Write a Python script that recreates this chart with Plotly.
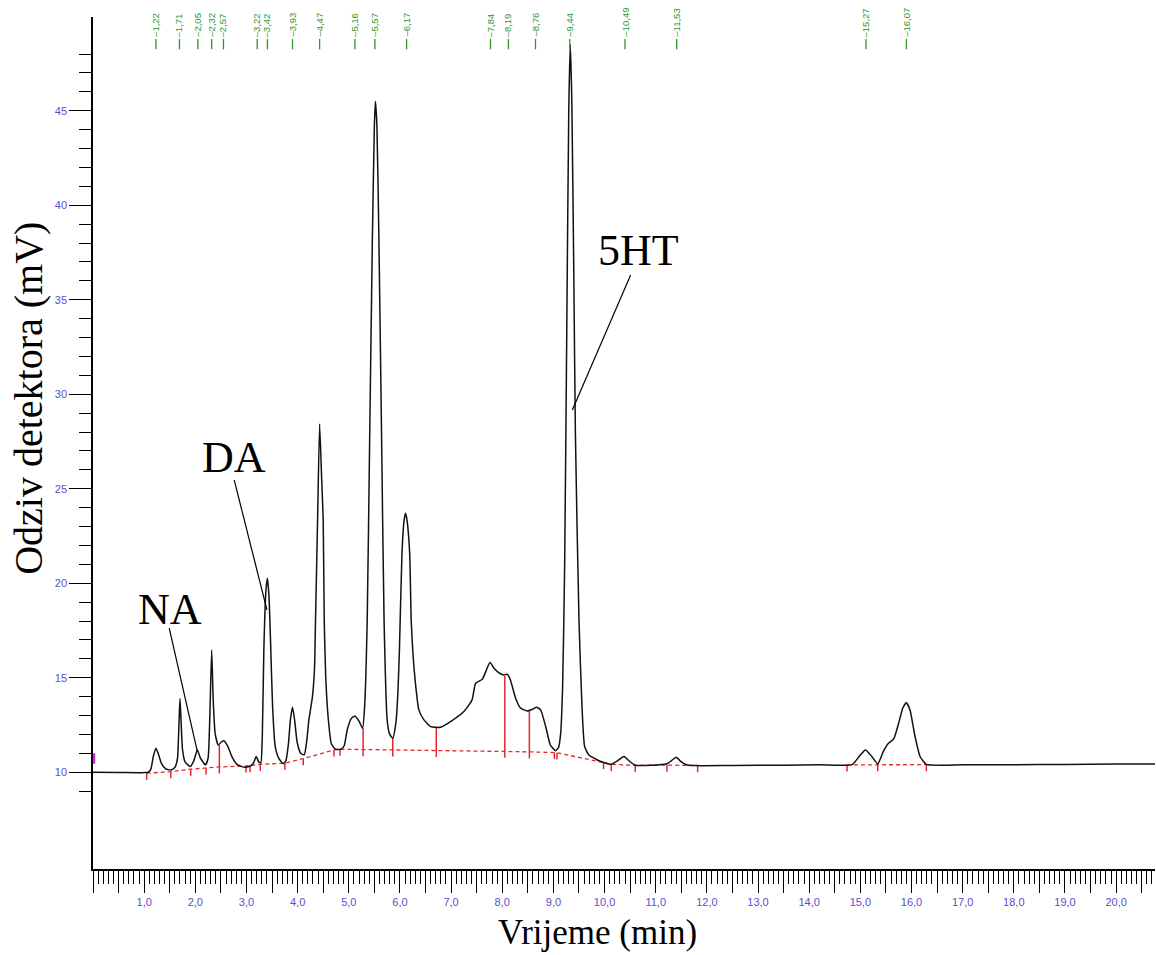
import plotly.graph_objects as go

# chromatogram: time (min) and detector response (mV)
time_min = [0.00, 0.50, 1.00, 1.08, 1.13, 1.18, 1.23, 1.28, 1.34, 1.42, 1.52, 1.60,
            1.65, 1.68, 1.70, 1.72, 1.75, 1.80, 1.90, 1.97, 2.04, 2.10, 2.20, 2.25,
            2.28, 2.32, 2.35, 2.39, 2.45, 2.51, 2.56, 2.63, 2.72, 2.82, 2.95, 3.05,
            3.13, 3.19, 3.24, 3.28, 3.31, 3.34, 3.38, 3.41, 3.44, 3.47, 3.51, 3.56,
            3.63, 3.72, 3.77, 3.82, 3.86, 3.90, 3.94, 3.99, 4.06, 4.13, 4.18, 4.22,
            4.29, 4.33, 4.35, 4.39, 4.43, 4.47, 4.50, 4.52, 4.55, 4.60, 4.66, 4.74,
            4.85, 4.91, 4.97, 5.05, 5.12, 5.20, 5.27, 5.31, 5.36, 5.41, 5.46, 5.50,
            5.52, 5.55, 5.59, 5.64, 5.69, 5.75, 5.80, 5.86, 5.92, 5.96, 5.99, 6.04,
            6.08, 6.11, 6.14, 6.19, 6.22, 6.25, 6.31, 6.37, 6.47, 6.60, 6.79, 6.99,
            7.25, 7.41, 7.48, 7.61, 7.76, 7.84, 7.93, 8.03, 8.10, 8.16, 8.26, 8.36,
            8.49, 8.59, 8.67, 8.75, 8.85, 8.94, 9.04, 9.10, 9.14, 9.18, 9.22, 9.26,
            9.30, 9.33, 9.36, 9.40, 9.43, 9.50, 9.56, 9.61, 9.69, 9.86, 10.00, 10.13,
            10.25, 10.38, 10.50, 10.60, 10.90, 11.22, 11.31, 11.40, 11.50, 11.62, 11.82, 12.50,
            13.50, 14.20, 14.84, 14.98, 15.10, 15.22, 15.34, 15.45, 15.55, 15.65, 15.75, 15.83,
            15.90, 15.97, 16.07, 16.17, 16.29, 17.00, 18.00, 19.00, 20.00, 20.76]
signal_mv = [10.00, 9.99, 9.98, 10.00, 10.15, 10.85, 11.27, 10.95, 10.45, 10.18, 10.12, 10.25,
             10.70, 12.50, 13.90, 12.80, 11.20, 10.55, 10.30, 10.60, 11.18, 10.75, 10.39, 10.75,
             12.60, 16.47, 13.80, 12.00, 11.44, 11.60, 11.67, 11.40, 10.80, 10.40, 10.27, 10.30,
             10.45, 10.83, 10.55, 10.50, 12.00, 16.50, 19.60, 20.26, 19.30, 17.00, 13.50, 11.40,
             10.75, 10.45, 10.60, 11.50, 12.80, 13.44, 12.80, 11.60, 11.00, 10.92, 11.70, 12.77,
             14.00, 15.50, 18.06, 23.35, 28.43, 25.50, 23.35, 18.06, 15.00, 12.80, 11.50, 11.22,
             11.22, 11.40, 12.25, 12.85, 12.98, 12.70, 12.33, 13.50, 18.00, 28.00, 38.00, 44.20,
             45.50, 44.20, 38.00, 28.00, 18.00, 12.77, 12.00, 11.80, 12.60, 14.20, 16.47, 21.60,
             23.30, 23.70, 23.30, 21.60, 18.06, 16.47, 14.53, 13.30, 12.77, 12.41, 12.38, 12.68,
             13.21, 13.83, 14.71, 14.92, 15.80, 15.50, 15.27, 15.15, 15.18, 14.88, 13.92, 13.39,
             13.24, 13.33, 13.44, 13.30, 12.41, 11.44, 11.14, 11.30, 12.00, 14.50, 21.00, 33.00,
             45.00, 48.50, 45.50, 36.00, 27.90, 18.06, 13.40, 11.37, 10.92, 10.65, 10.50, 10.42,
             10.60, 10.83, 10.55, 10.37, 10.37, 10.45, 10.62, 10.79, 10.55, 10.38, 10.35, 10.36,
             10.37, 10.39, 10.40, 10.85, 11.18, 10.85, 10.44, 11.10, 11.53, 11.75, 12.60, 13.40,
             13.68, 13.30, 11.88, 10.82, 10.42, 10.39, 10.40, 10.41, 10.43, 10.44]

# integration baseline: peak boundaries, baseline level, top of drop line
bound_time = [1.05, 1.52, 1.91, 2.21, 2.47, 2.99, 3.07, 3.27, 3.75, 4.11, 4.71, 4.83,
              5.28, 5.86, 6.71, 8.05, 8.53, 9.02, 9.07, 9.98, 10.13, 10.60, 11.22, 11.82,
              14.74, 15.34, 16.29]
bound_base = [9.95, 10.03, 10.16, 10.23, 10.28, 10.33, 10.35, 10.42, 10.48, 10.72, 11.18, 11.22,
              11.20, 11.18, 11.15, 11.12, 11.08, 11.04, 11.03, 10.51, 10.42, 10.36, 10.38, 10.35,
              10.39, 10.40, 10.40]
bound_top = [9.95, 10.03, 10.16, 10.23, 11.44, 10.33, 10.35, 10.42, 10.48, 10.72, 11.18, 11.22,
             12.33, 11.80, 12.38, 15.10, 13.24, 11.04, 11.03, 10.51, 10.42, 10.36, 10.38, 10.35,
             10.39, 10.40, 10.40]

# retention time labels along the top
peak_pos = [1.23, 1.69, 2.05, 2.32, 2.55, 3.21, 3.41, 3.90, 4.43, 5.12, 5.51, 6.13,
            7.77, 8.12, 8.65, 9.32, 10.40, 11.41, 15.11, 15.90]
peak_text = ["1,22", "1,71", "2,05", "2,32", "2,57", "3,22", "3,42", "3,93", "4,47", "5,16",
             "5,57", "6,17", "7,84", "8,19", "8,76", "9,44", "10,49", "11,53", "15,27", "16,07"]

# compound names with pointer lines
names = ["NA", "DA", "5HT"]
name_x = [1.505, 2.75, 10.66]
name_y = [18.59, 26.63, 37.58]
pointer_from = [(1.49, 17.62), (2.76, 25.47), (10.51, 36.31)]
pointer_to = [(2.04, 11.09), (3.40, 18.59), (9.37, 29.17)]

x_ticks = [i * 0.5 for i in range(42)]
x_tick_text = ["", "", "1,0", "", "2,0", "", "3,0", "", "4,0", "", "5,0", "", "6,0", "",
               "7,0", "", "8,0", "", "9,0", "", "10,0", "", "11,0", "", "12,0", "", "13,0", "",
               "14,0", "", "15,0", "", "16,0", "", "17,0", "", "18,0", "", "19,0", "", "20,0", ""]
y_ticks = [10, 15, 20, 25, 30, 35, 40, 45]
y_tick_text = ["10", "15", "20", "25", "30", "35", "40", "45"]
y_minor = [v for v in range(9, 49) if v % 5 != 0]

tick_purple = "#5b4ecf"
red = "#e8262a"
green = "#2f962f"

fig = go.Figure()

# dashed baseline, broken where the integration stops
bx, by = [], []
for i, t in enumerate(bound_time):
    if i > 0 and t - bound_time[i - 1] > 2:
        bx.append(None)
        by.append(None)
    bx.append(t)
    by.append(bound_base[i])
fig.add_trace(go.Scatter(x=bx, y=by, mode="lines",
                         line=dict(color=red, width=1.3, dash="4px,3px"),
                         hoverinfo="skip", showlegend=False))

# boundary ticks and drop lines
tx, ty = [], []
for t, b, top in zip(bound_time, bound_base, bound_top):
    tx += [t, t, None]
    ty += [top, b - 0.35, None]
fig.add_trace(go.Scatter(x=tx, y=ty, mode="lines", line=dict(color=red, width=1.5),
                         hoverinfo="skip", showlegend=False))

fig.add_trace(go.Scatter(x=time_min, y=signal_mv, mode="lines",
                         line=dict(color="#111111", width=1.5, shape="spline", smoothing=0.5),
                         showlegend=False))

# pointer lines for NA / DA / 5HT
px, py = [], []
for (x0, y0), (x1, y1) in zip(pointer_from, pointer_to):
    px += [x0, x1, None]
    py += [y0, y1, None]
fig.add_trace(go.Scatter(x=px, y=py, mode="lines", line=dict(color="black", width=1.2),
                         hoverinfo="skip", showlegend=False))

# green retention time markers
gx, gy = [], []
for t in peak_pos:
    gx += [t, t, None]
    gy += [48.8, 48.25, None]
fig.add_trace(go.Scatter(x=gx, y=gy, mode="lines", line=dict(color=green, width=1.3),
                         hoverinfo="skip", showlegend=False))

annotations = []
for t, s in zip(peak_pos, peak_text):
    annotations.append(dict(x=t, y=48.85, xref="x", yref="y", text="\u2013" + s,
                            textangle=-90, showarrow=False, xanchor="center", yanchor="bottom",
                            borderpad=0, font=dict(family="Liberation Sans", size=9.5, color=green)))
for s, x, y in zip(names, name_x, name_y):
    annotations.append(dict(x=x, y=y, xref="x", yref="y", text=s, showarrow=False,
                            xanchor="center", yanchor="middle",
                            font=dict(family="Liberation Serif", size=44, color="black")))
annotations.append(dict(x=0.4755, y=-0.074, xref="paper", yref="paper", text="Vrijeme (min)",
                        showarrow=False, xanchor="center", yanchor="middle",
                        font=dict(family="Liberation Serif", size=35, color="black")))
annotations.append(dict(x=-0.0603, y=0.553, xref="paper", yref="paper",
                        text="Odziv detektora (mV)", textangle=-90, showarrow=False,
                        xanchor="center", yanchor="middle", borderpad=0,
                        font=dict(family="Liberation Serif", size=40, color="black")))

fig.update_layout(
    width=1156, height=955,
    margin=dict(l=93, r=1, t=17, b=86),
    template="none",
    paper_bgcolor="white", plot_bgcolor="white",
    annotations=annotations,
    shapes=[dict(type="line", xref="x", yref="y", x0=0.02, x1=0.02, y0=10.45, y1=11.0,
                 line=dict(color="#e020e0", width=2.5))],
)
fig.update_xaxes(range=[0, 20.76], showgrid=False, zeroline=False, automargin=False,
                 showline=True, linecolor="black", linewidth=1.5,
                 tickmode="array", tickvals=x_ticks, ticktext=x_tick_text,
                 ticks="outside", ticklen=22, tickwidth=1, tickcolor="black",
                 minor=dict(dtick=0.1, tick0=0, ticks="outside", ticklen=13,
                            tickwidth=1, tickcolor="black"),
                 tickfont=dict(family="Liberation Sans", size=11, color=tick_purple))
fig.update_yaxes(range=[4.88, 49.96], showgrid=False, zeroline=False, automargin=False,
                 showline=True, linecolor="black", linewidth=1.5,
                 tickmode="array", tickvals=y_ticks, ticktext=y_tick_text,
                 ticks="outside", ticklen=22, tickwidth=1.2, tickcolor="black",
                 minor=dict(tickmode="array", tickvals=y_minor, ticks="outside", ticklen=12,
                            tickwidth=1.2, tickcolor="black"),
                 tickfont=dict(family="Liberation Sans", size=11, color=tick_purple))

# drop the default page margin so the figure sits at the window's corner
fig.write_html("out.html", config={"displayModeBar": False},
               post_script="document.body.style.margin = '0';")
